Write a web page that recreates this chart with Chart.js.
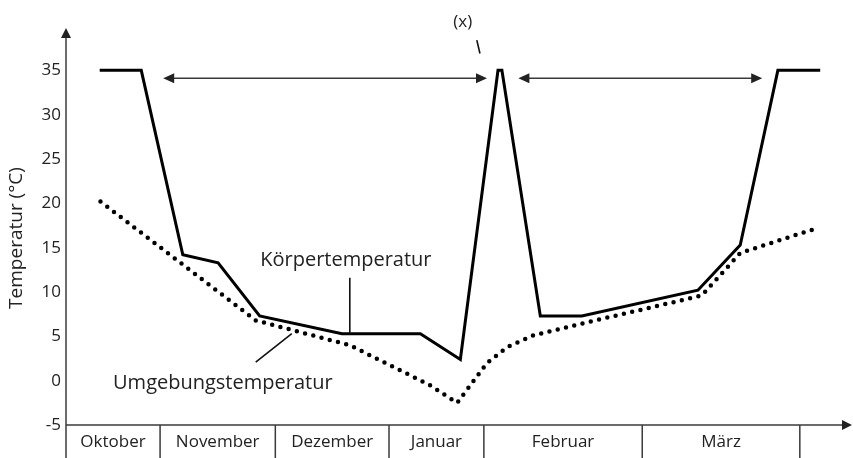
<!DOCTYPE html>
<html>
<head>
<meta charset="utf-8">
<script src="https://cdn.jsdelivr.net/npm/chart.js@4.4.0/dist/chart.umd.min.js"></script>
<style>
  html, body { margin: 0; padding: 0; background: #fff; }
  #wrap { width: 853px; height: 458px; position: relative; }
</style>
</head>
<body>
<div id="wrap"><canvas id="chart-div"></canvas></div>
<script>
// time axis is unitless (0..100 across the plot), months have unequal widths
const months = ['Oktober', 'November', 'Dezember', 'Januar', 'Februar', 'März'];
const monthEdges = [0, 12.0, 26.7, 41.2, 53.3, 73.5, 93.6];
const yTicks = [-5, 0, 5, 10, 15, 20, 25, 30, 35];

// Körpertemperatur
const bodyX = [4.3, 9.6, 14.9, 19.4, 24.7, 35.2, 45.2, 50.3, 55.1, 55.6, 60.5, 65.8, 80.6, 86.0, 90.8, 96.2];
const bodyY = [35, 35, 14.2, 13.3, 7.3, 5.3, 5.3, 2.4, 35, 35, 7.3, 7.3, 10.2, 15.3, 35, 35];

// Umgebungstemperatur
const ambientX = [4.4, 24.2, 36.2, 46.4, 49.9, 53.7, 56.3, 59.6, 65.6, 81.1, 86.0, 95.8];
const ambientY = [20.2, 6.8, 4.0, -0.5, -2.5, 2.0, 3.8, 5.1, 6.4, 9.6, 14.4, 17.2];

// hibernation periods (double arrows) and annotations
const hibernation = [[12.4, 53.7], [57.7, 88.8]];
const hibernationY = 34.1;
const notes = [
  { text: 'Körpertemperatur', x: 35.7, y: 13.6, size: 20 },
  { text: 'Umgebungstemperatur', x: 20.0, y: -0.3, size: 20 },
  { text: '(x)', x: 50.6, y: 40.4, size: 17 }
];
const pointers = [
  [36.2, 11.6, 36.2, 5.3],
  [24.2, 2.1, 28.8, 5.3],
  [52.4, 38.4, 52.8, 36.9]
];

const FONT = "'Open Sans', 'Noto Sans', sans-serif";
Chart.defaults.font.family = FONT;
Chart.defaults.color = '#222';

function toPoints(xs, ys) {
  return xs.map((v, i) => ({ x: v, y: ys[i] }));
}

function head(ctx, tx, ty, ang, len, half) {
  ctx.save();
  ctx.translate(tx, ty);
  ctx.rotate(ang);
  ctx.beginPath();
  ctx.moveTo(0, 0);
  ctx.lineTo(-len, -half);
  ctx.lineTo(-len, half);
  ctx.closePath();
  ctx.fill();
  ctx.restore();
}

function seg(ctx, x1, y1, x2, y2) {
  ctx.beginPath();
  ctx.moveTo(x1, y1);
  ctx.lineTo(x2, y2);
  ctx.stroke();
}

const decor = {
  id: 'decor',
  afterDraw(chart) {
    const { ctx, chartArea: a, scales: { x, y } } = chart;
    const W = chart.width, H = chart.height;
    ctx.save();
    ctx.fillStyle = '#222';
    ctx.strokeStyle = '#3a3a3a';
    ctx.lineWidth = 1.5;

    // axes with arrows
    seg(ctx, a.left, H, a.left, a.top + 8);
    head(ctx, a.left, a.top + 2, -Math.PI / 2, 10, 5);
    seg(ctx, a.left, a.bottom, W - 8, a.bottom);
    head(ctx, W - 1, a.bottom, 0, 10, 5);

    // month table
    ctx.font = '17px ' + FONT;
    ctx.textAlign = 'center';
    ctx.textBaseline = 'middle';
    for (let i = 1; i < monthEdges.length; i++) {
      const px = x.getPixelForValue(monthEdges[i]);
      seg(ctx, px, a.bottom, px, H);
    }
    months.forEach((m, i) => {
      const cx = (x.getPixelForValue(monthEdges[i]) + x.getPixelForValue(monthEdges[i + 1])) / 2;
      ctx.fillText(m, cx, a.bottom + 17);
    });

    // hibernation arrows
    const ay = y.getPixelForValue(hibernationY);
    hibernation.forEach(([s, e]) => {
      const x1 = x.getPixelForValue(s), x2 = x.getPixelForValue(e);
      seg(ctx, x1 + 6, ay, x2 - 6, ay);
      head(ctx, x1, ay, Math.PI, 11, 5);
      head(ctx, x2, ay, 0, 11, 5);
    });

    // pointer lines
    ctx.strokeStyle = '#111';
    ctx.lineWidth = 1.6;
    pointers.forEach(p => {
      seg(ctx, x.getPixelForValue(p[0]), y.getPixelForValue(p[1]),
               x.getPixelForValue(p[2]), y.getPixelForValue(p[3]));
    });

    // labels
    notes.forEach(n => {
      ctx.font = n.size + 'px ' + FONT;
      ctx.fillText(n.text, x.getPixelForValue(n.x), y.getPixelForValue(n.y));
    });

    // y axis title
    ctx.save();
    ctx.translate(17, 238);
    ctx.rotate(-Math.PI / 2);
    ctx.font = '19px ' + FONT;
    ctx.fillText('Temperatur (°C)', 0, 0);
    ctx.restore();

    ctx.restore();
  }
};

new Chart(document.getElementById('chart-div'), {
  type: 'line',
  data: {
    datasets: [{
      label: 'Körpertemperatur',
      data: toPoints(bodyX, bodyY),
      borderColor: '#000',
      borderWidth: 3,
      pointRadius: 0,
      tension: 0
    }, {
      label: 'Umgebungstemperatur',
      data: toPoints(ambientX, ambientY),
      borderColor: '#000',
      borderWidth: 4.5,
      borderDash: [0, 8.5],
      borderCapStyle: 'round',
      pointRadius: 0,
      tension: 0
    }]
  },
  options: {
    responsive: true,
    maintainAspectRatio: false,
    animation: false,
    layout: { padding: { top: 26, right: 3, bottom: 33, left: 0 } },
    plugins: { legend: { display: false }, tooltip: { enabled: false } },
    scales: {
      x: { type: 'linear', min: 0, max: 100, display: false },
      y: {
        min: -5,
        max: 40,
        afterBuildTicks: axis => { axis.ticks = yTicks.map(v => ({ value: v })); },
        afterFit: axis => { axis.width = 66; },
        grid: { display: false, drawTicks: false },
        border: { display: false },
        ticks: { padding: 5, font: { size: 17 }, color: '#222' }
      }
    }
  },
  plugins: [decor]
});
</script>
</body>
</html>
